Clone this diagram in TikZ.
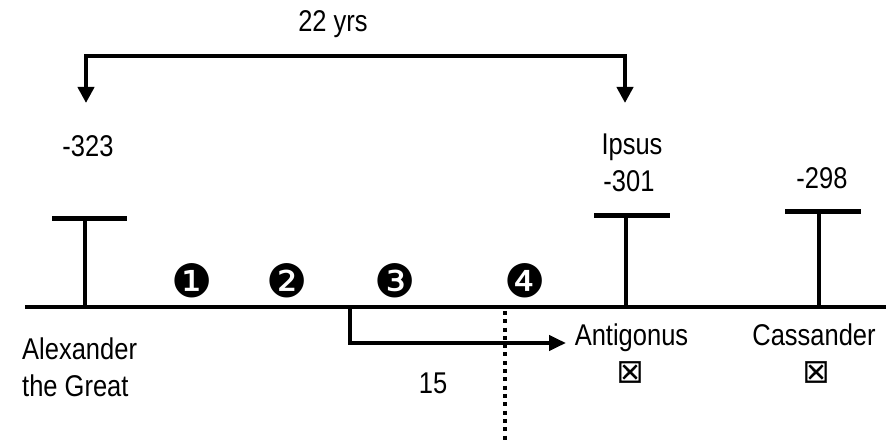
\documentclass[tikz,border=0pt]{standalone}
\usepackage{fontspec}
\setmainfont[FakeStretch=0.85]{Liberation Sans}
\newfontfamily\dingfont{DejaVu Sans}
\newfontfamily\boxfont[FakeBold=2]{DejaVu Sans}
\usetikzlibrary{arrows.meta}
\begin{document}
\begin{tikzpicture}[x=1pt,y=-1pt,
  lbl/.style={font=\fontsize{30}{37}\selectfont, inner sep=0pt, anchor=base},
  ding/.style={font=\dingfont\fontsize{46}{46}\selectfont, inner sep=0pt, anchor=center},
  boxg/.style={font=\boxfont\fontsize{29}{29}\selectfont, inner sep=0pt, anchor=center},
  mainline/.style={line width=4.5pt},
  stem/.style={line width=4pt},
  tbar/.style={line width=5pt},
  conn/.style={line width=4pt, line join=miter},
  dotline/.style={line width=4pt, dash pattern=on 4pt off 4.3pt}
]
\useasboundingbox (0,0) rectangle (886,443);

% main timeline
\coordinate (L) at (25,307);
\coordinate (R) at (886,307);
\draw[mainline] (L) -- (R);

% T markers
\coordinate (a0) at (85,307);   \coordinate (a1) at (85,221);
\coordinate (a2) at (52,219);   \coordinate (a3) at (127,219);
\draw[stem] (a0) -- (a1);
\draw[tbar] (a2) -- (a3);

\coordinate (i0) at (626,307);  \coordinate (i1) at (626,218);
\coordinate (i2) at (594,215.7);\coordinate (i3) at (670,215.7);
\draw[stem] (i0) -- (i1);
\draw[tbar] (i2) -- (i3);

\coordinate (c0) at (819,305);  \coordinate (c1) at (819,214);
\coordinate (c2) at (785,211.7);\coordinate (c3) at (861,211.7);
\draw[stem] (c0) -- (c1);
\draw[tbar] (c2) -- (c3);

% top bracket arrow
\coordinate (b0) at (86,103);
\coordinate (b1) at (86,56);
\coordinate (b2) at (625,56);
\coordinate (b3) at (625,103);
\draw[conn, {Triangle[length=16pt,width=16pt]}-{Triangle[length=16pt,width=16pt]}]
  (b0) -- (b1) -- (b2) -- (b3);
\node[lbl] (yrs) at (333,32) {22 yrs};

% labels above
\node[lbl] (m323) at (88,157) {-323};
\node[lbl] (ipsus) at (632,155) {Ipsus};
\node[lbl] (m301) at (629,192) {-301};
\node[lbl] (m298) at (822,189) {-298};

% numbered dingbats
\node[ding] (n1) at (192.5,281) {❶};
\node[ding] (n2) at (287,281) {❷};
\node[ding] (n3) at (395,281) {❸};
\node[ding] (n4) at (525.5,281) {❹};

% labels below
\node[lbl, anchor=base west, align=left] (alex) at (22,396) {Alexander\\the Great};
\node[lbl] (anti) at (631.5,346) {Antigonus};
\node[lbl] (cass) at (814,346) {Cassander};
\node[boxg] (x1) at (630,372) {☒};
\node[boxg] (x2) at (816,372) {☒};
\node[lbl] (fifteen) at (433,393) {15};

% branch arrow
\coordinate (s0) at (350,307);
\coordinate (s1) at (350,343);
\coordinate (s2) at (566,343);
\draw[conn, -{Triangle[length=17pt,width=15pt]}] (s0) -- (s1) -- (s2);

% dotted line
\coordinate (d0) at (505,311);
\coordinate (d1) at (505,443);
\draw[dotline] (d0) -- (d1);
\end{tikzpicture}
\end{document}
